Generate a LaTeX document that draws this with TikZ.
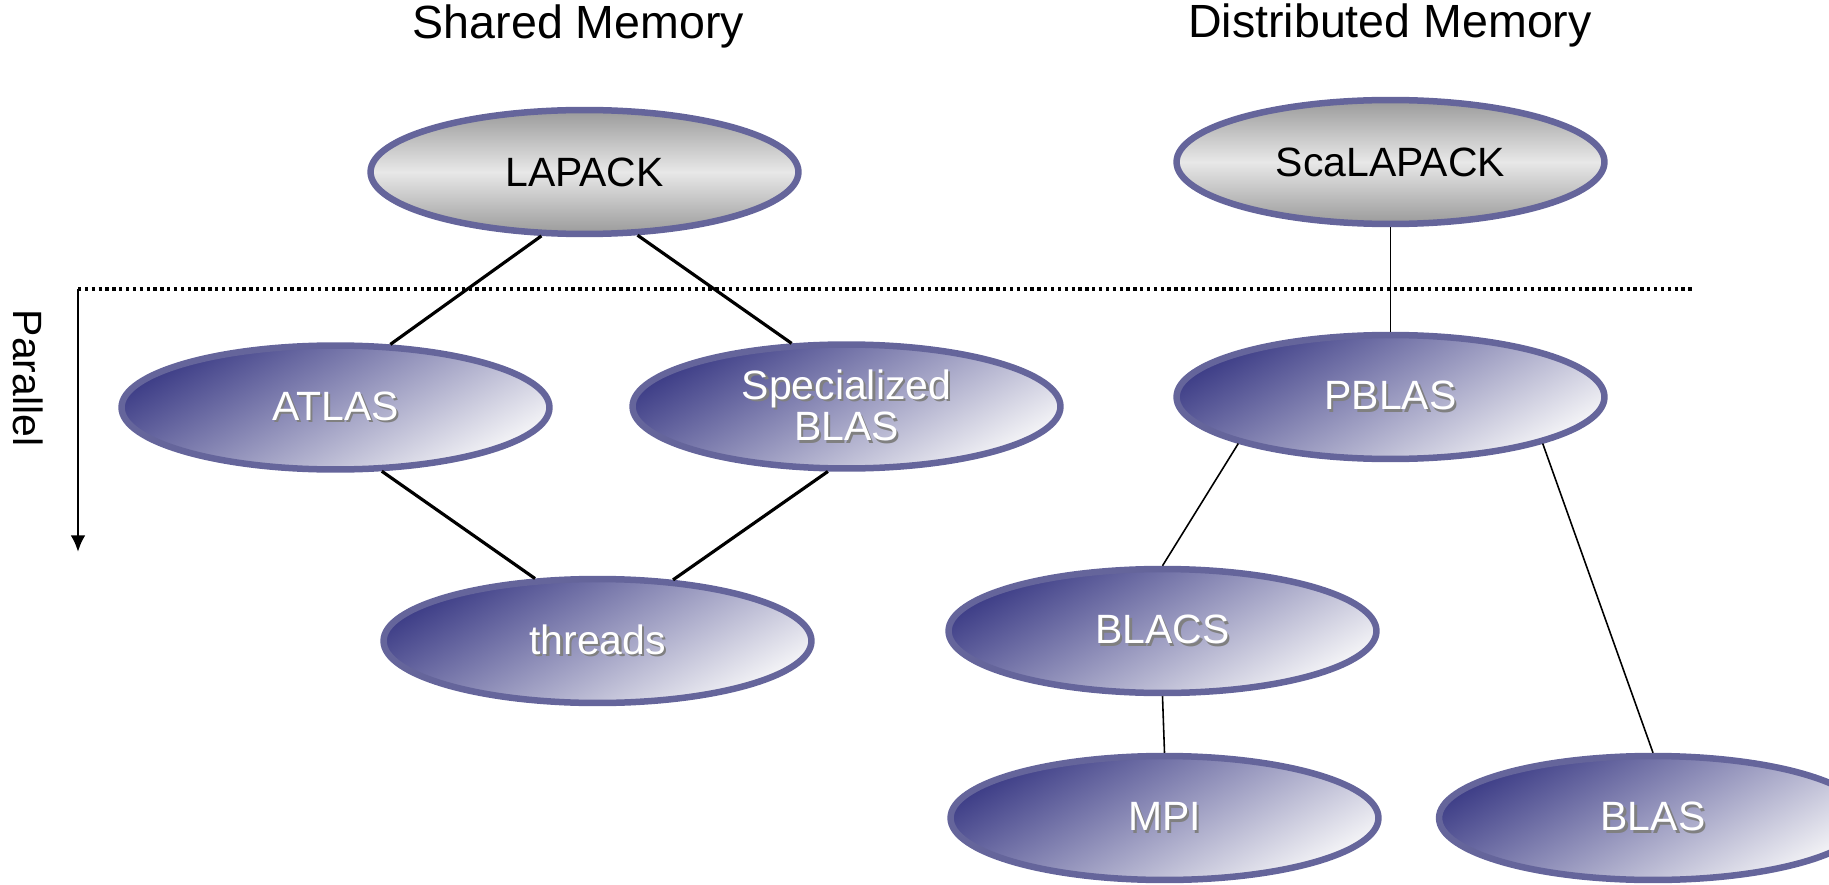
\documentclass[tikz,border=0pt]{standalone}
\usepackage{fontspec}
\setmainfont{Liberation Sans}
\usetikzlibrary{shapes.geometric,arrows.meta}
\definecolor{rimblue}{HTML}{65659B}
\definecolor{deepblue}{HTML}{3F3F88}
\definecolor{paleblue}{HTML}{F3F3F6}
\definecolor{capgray}{HTML}{9A9A9A}
\definecolor{midgray}{HTML}{E8E8E8}
\newcommand{\shadowed}[1]{\makebox[0pt][l]{\hspace{1.4pt}\raisebox{-1.4pt}{\textcolor{black!50}{#1}}}\textcolor{white}{#1}}

\begin{document}
\begin{tikzpicture}[x=0.02cm,y=-0.02cm]
		\tikzstyle{lib}=[ellipse, draw=rimblue, line width=3.7pt, minimum width=8.56cm, minimum height=2.48cm, inner sep=0pt, font=\fontsize{23.3}{21}\selectfont, align=center]
		\tikzstyle{toplib}=[lib, top color=capgray, bottom color=capgray, middle color=midgray]
		\tikzstyle{lowlib}=[lib, top color=deepblue, bottom color=paleblue, shading angle=30]
		\tikzstyle{link}=[black, line width=1.8pt]
		\tikzstyle{thinlink}=[black, line width=0.9pt]
		\tikzstyle{heading}=[font=\fontsize{26.5}{30}\selectfont, anchor=base]
		\useasboundingbox (0,0) rectangle (1829,885);
		\node [heading] (shared) at (578.5,39) {Shared Memory};
		\node [heading] (distributed) at (1390,38) {Distributed Memory};
		\node [font=\fontsize{23.3}{26}\selectfont, rotate=-90] (par) at (28,378) {Parallel};
		\coordinate (corner) at (78,289);
		\coordinate (lineend) at (1694,289);
		\coordinate (arrowtip) at (78,552);
		\draw [black, line width=1.9pt, dash pattern=on 1.9pt off 2pt] (corner) -- (lineend);
		\draw [black, line width=1.6pt, -{Latex[length=9.5pt,width=8.5pt]}] (corner) -- (arrowtip);
		\node [toplib] (lapack) at (584.5,172) {LAPACK};
		\node [toplib] (scalapack) at (1390.5,162) {ScaLAPACK};
		\node [lowlib] (atlas) at (335.5,407.5) {\shadowed{ATLAS}};
		\node [lowlib] (specblas) at (846.5,406.5) {\shadowed{Specialized}\\\shadowed{BLAS}};
		\node [lowlib] (threads) at (597.5,641) {\shadowed{threads}};
		\node [lowlib] (pblas) at (1390.5,397) {\shadowed{PBLAS}};
		\node [lowlib] (blacs) at (1162.5,631) {\shadowed{BLACS}};
		\node [lowlib] (mpi) at (1164.5,818) {\shadowed{MPI}};
		\node [lowlib] (blas) at (1653,818) {\shadowed{BLAS}};
		\draw [link] (lapack.236) -- (atlas.49);
		\draw [link] (lapack.310) -- (specblas.131);
		\draw [link] (atlas.306) -- (threads.135);
		\draw [link] (specblas.254) -- (threads.39);
		\draw [thinlink] (scalapack.south) -- (pblas.north);
		\draw [thinlink] (pblas.197) -- (blacs.north);
		\draw [thinlink] (pblas.343) -- (blas.north);
		\draw [thinlink] (blacs.south) -- (mpi.north);
\end{tikzpicture}
\end{document}
